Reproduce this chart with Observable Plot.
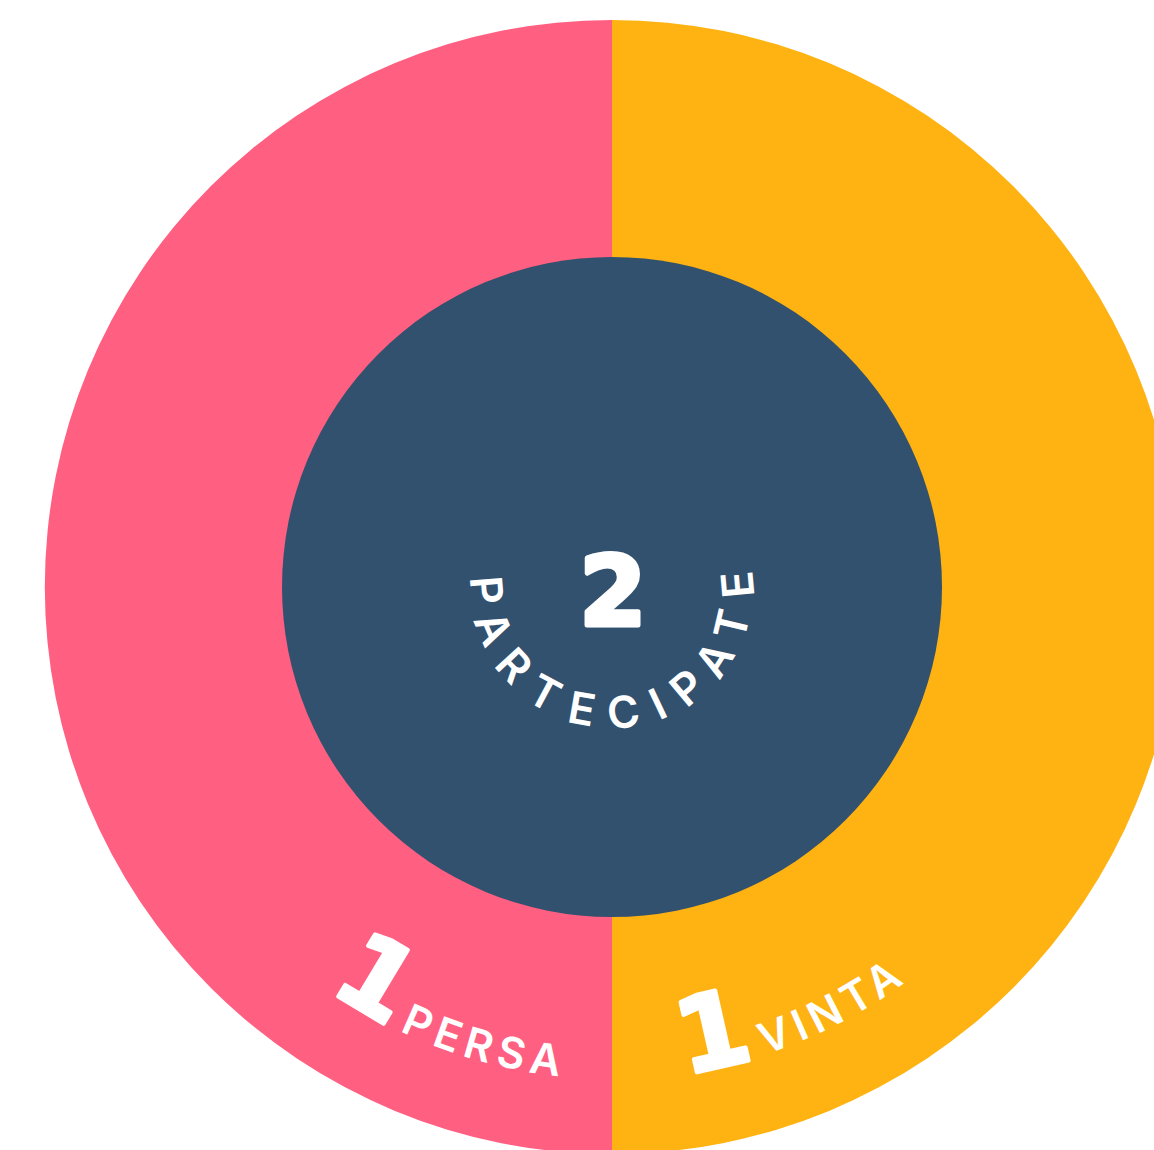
<!DOCTYPE html>
<html><head><meta charset="utf-8">
<script src="https://cdn.jsdelivr.net/npm/d3@7"></script>
<script src="https://cdn.jsdelivr.net/npm/@observablehq/plot@0.6"></script>
<style>html,body{margin:0;padding:0;background:#fff;overflow:hidden}</style>
</head><body><div id="chart"></div>
<script>
// ---- data ----
const outcomes = ["vinta", "persa"];
const counts = [1, 1];
const outcomeLabels = ["VINTA", "PERSA"];
const totalLabel = "PARTECIPATE";
const palette = ["#FEB312", "#FF5F81"];
const centerFill = "#32516E";

const rows = outcomes.map((o, i) => ({outcome: o, count: counts[i], label: outcomeLabels[i]}));
const total = d3.sum(counts);

// layout (in units of the outer radius)
const W = 1154, H = 1150, CX = 612, CY = 587, R = 567;
const innerR = 330 / 567;
const labelR = 492 / 567;
const centerTextR = 141 / 567;
// screen angles (deg, clockwise from 3 o'clock) where each outer label starts
const labelStart = {vinta: 81.5, persa: 125.2};
const FONT = "Inter, Lato, sans-serif";
const NUMFONT = "'DejaVu Sans', sans-serif";

function arcPath(cx, cy, r, a0, a1) {
  const rad = Math.PI / 180;
  const p0 = [cx + r * Math.cos(a0 * rad), cy + r * Math.sin(a0 * rad)];
  const p1 = [cx + r * Math.cos(a1 * rad), cy + r * Math.sin(a1 * rad)];
  const large = (a0 - a1) > 180 ? 1 : 0;
  return `M${p0[0]},${p0[1]} A${r},${r} 0 ${large} 0 ${p1[0]},${p1[1]}`;
}

function donut(index, scales) {
  const {x, y} = scales;
  const cx = x(0), cy = y(0), r = x(1) - x(0);
  const color = d3.scaleOrdinal(outcomes, palette);
  const g = d3.create("svg:g").attr("text-anchor", "start");
  const pie = d3.pie().sort(null).value(d => d.count).startAngle(0).endAngle(2 * Math.PI);
  const arcs = pie(rows);
  const arc = d3.arc().innerRadius(0).outerRadius(r);
  g.selectAll("path.slice").data(arcs).join("path")
    .attr("class", "slice")
    .attr("transform", `translate(${cx},${cy})`)
    .attr("d", arc)
    .attr("fill", d => color(d.data.outcome));
  g.append("circle").attr("cx", cx).attr("cy", cy).attr("r", x(innerR) - x(0)).attr("fill", centerFill);

  // total number
  g.append("text").attr("x", cx + 1).attr("y", cy + 38)
    .attr("text-anchor", "middle").attr("fill", "#fff")
    .attr("stroke", "#fff").attr("stroke-width", 5).attr("stroke-linejoin", "round")
    .attr("font-family", NUMFONT).attr("font-weight", 700).attr("font-size", 96)
    .text(total);

  // curved "PARTECIPATE"
  const rc = x(centerTextR) - x(0);
  const a0 = 200;
  g.append("path").attr("id", "ctp").attr("fill", "none")
    .attr("d", arcPath(cx, cy, rc, a0, -20));
  g.append("text").attr("fill", "#fff")
    .attr("font-family", FONT).attr("font-weight", 600).attr("font-size", 44)
    .attr("letter-spacing", 17.5)
    .append("textPath").attr("href", "#ctp")
    .attr("startOffset", rc * (a0 - 184) * Math.PI / 180)
    .text(totalLabel);

  // outer labels
  const rl = x(labelR) - x(0);
  g.append("path").attr("id", "lp").attr("fill", "none")
    .attr("d", arcPath(cx, cy, rl, 180, 0));
  rows.forEach(d => {
    const tp = g.append("text").attr("fill", "#fff")
      .append("textPath").attr("href", "#lp")
      .attr("startOffset", rl * (180 - labelStart[d.outcome]) * Math.PI / 180);
    tp.append("tspan").attr("font-family", NUMFONT).attr("font-size", 104).attr("font-weight", 700)
      .attr("stroke", "#fff").attr("stroke-width", 4).attr("stroke-linejoin", "round")
      .text(d.count);
    tp.append("tspan").attr("dx", 10).attr("font-family", FONT).attr("font-size", 43).attr("font-weight", 600)
      .attr("letter-spacing", 6.5).text(d.label);
  });
  return g.node();
}

const chart = Plot.plot({
  width: W, height: H,
  margin: 0,
  x: {domain: [-CX / R, (W - CX) / R], axis: null},
  y: {domain: [-(H - CY) / R, CY / R], axis: null},
  marks: [
    Plot.dot([{x: 0, y: 0}], {x: "x", y: "y", fill: "none", stroke: "none"}),
    donut
  ]
});
document.getElementById("chart").append(chart);
</script>
</body></html>
